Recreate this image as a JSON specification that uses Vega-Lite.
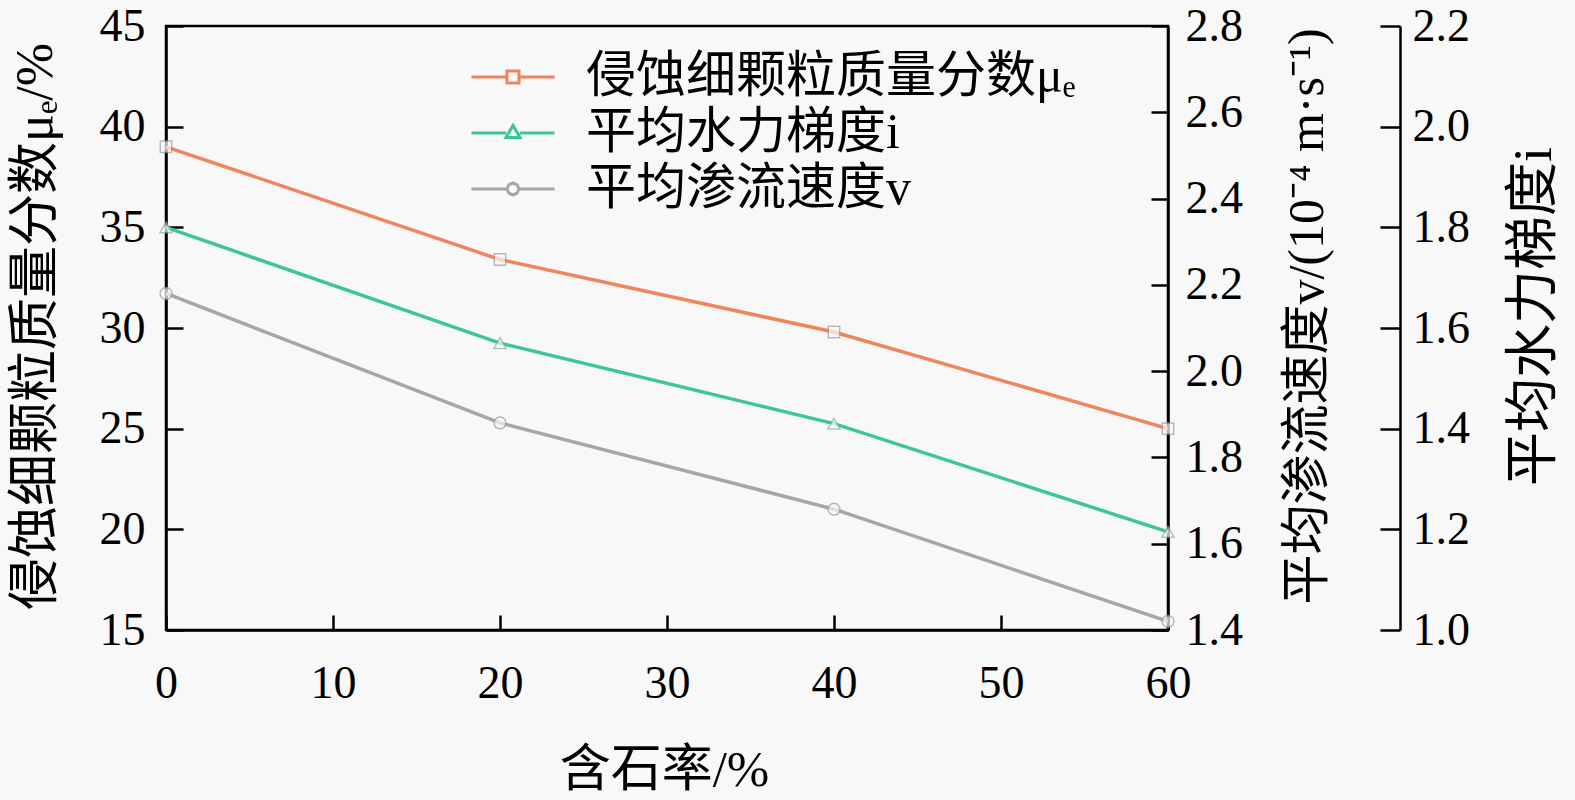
{
  "$schema": "https://vega.github.io/schema/vega-lite/v6.json",
  "autosize": "none",
  "width": 1002,
  "height": 604,
  "padding": {"left": 166, "top": 26, "right": 407, "bottom": 170},
  "background": "#f8f8f8",
  "view": {"stroke": "black", "strokeWidth": 2.5},
  "config": {
    "axis": {
      "grid": false,
      "labelFlush": false,
      "domainColor": "black",
      "domainWidth": 2.5,
      "tickColor": "black",
      "tickWidth": 2.5,
      "labelFont": "Liberation Serif",
      "labelFontSize": 46,
      "labelColor": "black",
      "titleFont": "Liberation Serif, Noto Sans CJK SC",
      "titleFontSize": 51,
      "titleFontWeight": "normal",
      "titleColor": "black"
    },
    "legend": {
      "labelFont": "Liberation Serif, Noto Sans CJK SC",
      "labelFontSize": 50,
      "labelColor": "black",
      "labelLimit": 0,
      "padding": 0
    }
  },
  "data": {
    "values": [
      {"rate": 0, "mu": 39.0, "i": 1.80, "v": 2.18},
      {"rate": 20, "mu": 33.4, "i": 1.57, "v": 1.88},
      {"rate": 40, "mu": 29.8, "i": 1.41, "v": 1.68},
      {"rate": 60, "mu": 25.0, "i": 1.195, "v": 1.42}
    ]
  },
  "encoding": {
    "x": {
      "field": "rate",
      "type": "quantitative",
      "scale": {"domain": [0, 60], "nice": false},
      "axis": {
        "values": [0, 10, 20, 30, 40, 50, 60],
        "tickSize": -15,
        "labelPadding": 46,
        "title": "含石率/%",
        "titleX": 498,
        "titleY": 140,
        "titleBaseline": "middle"
      }
    }
  },
  "layer": [
    {
      "encoding": {
        "y": {
          "field": "mu",
          "type": "quantitative",
          "scale": {"domain": [15, 45], "nice": false, "zero": false},
          "axis": {
            "orient": "left",
            "values": [15, 20, 25, 30, 35, 40, 45],
            "tickSize": -17,
            "labelPadding": 38,
            "title": "侵蚀细颗粒质量分数μₑ/%",
            "titleFontSize": 52,
            "titleAngle": 270,
            "titleX": -131,
            "titleY": 300,
            "titleBaseline": "middle",
            "titleAlign": "center"
          }
        }
      },
      "layer": [
        {
          "mark": {"type": "line", "strokeWidth": 3.5},
          "encoding": {
            "color": {
              "datum": " 侵蚀细颗粒质量分数μₑ",
              "type": "nominal",
              "scale": {
                "domain": [" 侵蚀细颗粒质量分数μₑ", "平均水力梯度i", "平均渗流速度v"],
                "range": ["#f0845c", "#3cc59b", "#a6a6a6"]
              },
              "legend": {
                "title": null,
                "orient": "none",
                "legendX": 322,
                "legendY": 26,
                "rowPadding": 6,
                "labelOffset": 48,
                "symbolSize": 900,
                "symbolStrokeWidth": 3,
                "encode": {
                  "symbols": {
                    "update": {
                      "shape": {"signal": "datum.value === ' 侵蚀细颗粒质量分数μₑ' ? 'M-2.77,0H-0.4M0.4,0H2.77M-0.4,-0.4H0.4V0.4H-0.4Z' : datum.value === '平均水力梯度i' ? 'M-2.77,0H-0.45M0.45,0H2.77M-0.47,0.3L0,-0.5L0.47,0.3Z' : 'M-2.77,0H-0.4M0.4,0H2.77M0.4,0L0.28,0.28L0,0.4L-0.28,0.28L-0.4,0L-0.28,-0.28L0,-0.4L0.28,-0.28Z'"},
                      "fill": {"value": "#f8f8f8"}
                    }
                  }
                }
              }
            }
          }
        },
        {
          "mark": {"type": "point", "shape": "square", "filled": true, "fill": "#f8f8f8", "stroke": "#9e9e9e", "strokeWidth": 1.5, "size": 130}
        }
      ]
    },
    {
      "encoding": {
        "y": {
          "field": "v",
          "type": "quantitative",
          "scale": {"domain": [1.4, 2.8], "nice": false, "zero": false},
          "axis": {
            "orient": "right",
            "values": [1.4, 1.6, 1.8, 2.0, 2.2, 2.4, 2.6, 2.8],
            "format": ".1f",
            "tickSize": -17,
            "labelPadding": 34,
            "title": "平均渗流速度v/(10⁻⁴ m·s⁻¹)",
            "titleFontSize": 50,
            "titleAngle": 270,
            "titleX": 139,
            "titleY": 290,
            "titleBaseline": "middle",
            "titleAlign": "center"
          }
        }
      },
      "layer": [
        {
          "mark": {"type": "line", "strokeWidth": 3.5},
          "encoding": {"color": {"datum": "平均渗流速度v", "type": "nominal"}}
        },
        {
          "mark": {"type": "point", "shape": "circle", "filled": true, "fill": "#f8f8f8", "stroke": "#9e9e9e", "strokeWidth": 1.5, "size": 140}
        }
      ]
    },
    {
      "encoding": {
        "y": {
          "field": "i",
          "type": "quantitative",
          "scale": {"domain": [1.0, 2.2], "nice": false, "zero": false},
          "axis": {
            "orient": "right",
            "offset": 232,
            "values": [1.0, 1.2, 1.4, 1.6, 1.8, 2.0, 2.2],
            "format": ".1f",
            "tickSize": -20,
            "labelPadding": 32,
            "title": "平均水力梯度i",
            "titleFontSize": 54,
            "titleAngle": 270,
            "titleX": 134,
            "titleY": 290,
            "titleBaseline": "middle",
            "titleAlign": "center"
          }
        }
      },
      "layer": [
        {
          "mark": {"type": "line", "strokeWidth": 3.5},
          "encoding": {"color": {"datum": "平均水力梯度i", "type": "nominal"}}
        },
        {
          "mark": {"type": "point", "shape": "triangle-up", "filled": true, "fill": "#f8f8f8", "stroke": "#8fb3a5", "strokeWidth": 1.5, "size": 150}
        }
      ]
    }
  ],
  "resolve": {"scale": {"y": "independent"}}
}
